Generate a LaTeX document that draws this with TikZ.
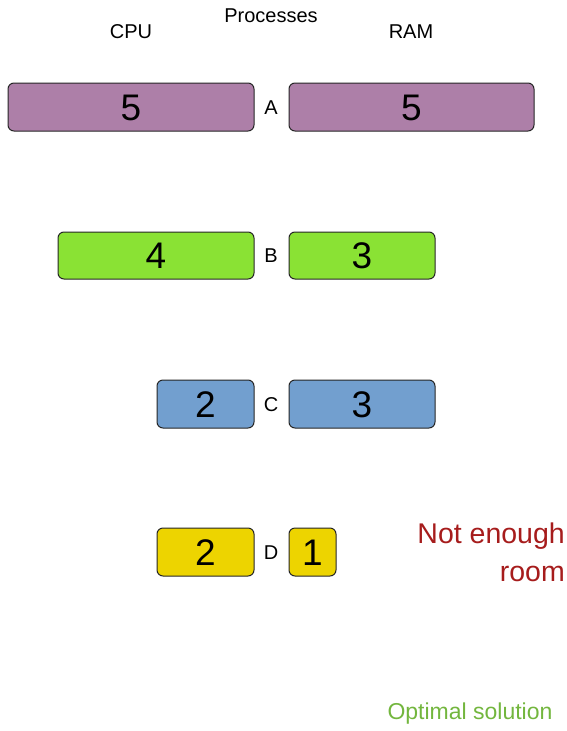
\documentclass[tikz,border=0pt]{standalone}
\usepackage{fontspec}
\setmainfont{Liberation Sans}
\definecolor{cpurp}{HTML}{AD7FA8}
\definecolor{cgreen}{HTML}{8AE234}
\definecolor{cblue}{HTML}{729FCF}
\definecolor{cyell}{HTML}{EDD400}
\definecolor{cred}{HTML}{A61C1C}
\definecolor{cgtxt}{HTML}{73B63E}
\begin{document}
\begin{tikzpicture}[x=1pt,y=-1pt,
  bar/.style={draw=black!85,line width=1pt,rounded corners=6pt},
  num/.style={font=\fontsize{37}{40}\selectfont},
  lbl/.style={font=\fontsize{20}{24}\selectfont,inner sep=0pt},
  hdr/.style={font=\fontsize{20}{24}\selectfont,inner sep=0pt}]
\useasboundingbox (0,0) rectangle (566,731);
% headers
\node[hdr] (cpu) at (131,32) {CPU};
\node[hdr] (proc) at (271,16) {Processes};
\node[hdr] (ram) at (411,32) {RAM};
% A
\draw[bar,fill=cpurp] (8,83) rectangle (254,131);
\node[num] (a1) at (131,108) {5};
\draw[bar,fill=cpurp] (289,83) rectangle (534,131);
\node[num] (a2) at (411.5,108) {5};
\node[lbl] (A) at (271,108) {A};
% B
\draw[bar,fill=cgreen] (58,232) rectangle (254,279);
\node[num] (b1) at (156,256) {4};
\draw[bar,fill=cgreen] (289,232) rectangle (435,279);
\node[num] (b2) at (362,256) {3};
\node[lbl] (B) at (271,256) {B};
% C
\draw[bar,fill=cblue] (157,380) rectangle (254,428);
\node[num] (c1) at (205.5,405) {2};
\draw[bar,fill=cblue] (289,380) rectangle (435,428);
\node[num] (c2) at (362,405) {3};
\node[lbl] (C) at (271,405) {C};
% D
\draw[bar,fill=cyell] (157,528) rectangle (254,576);
\node[num] (d1) at (205.5,553) {2};
\draw[bar,fill=cyell] (289,528) rectangle (336,576);
\node[num] (d2) at (312.5,553) {1};
\node[lbl] (D) at (271,553) {D};
% notes
\node[anchor=north east,inner sep=0pt,align=right,text=cred,font=\fontsize{28.5}{38}\selectfont] (note) at (565,523) {Not enough\\room};
\node[inner sep=0pt,text=cgtxt,font=\fontsize{23}{26}\selectfont] (opt) at (470,714) {Optimal solution};
\end{tikzpicture}
\end{document}
